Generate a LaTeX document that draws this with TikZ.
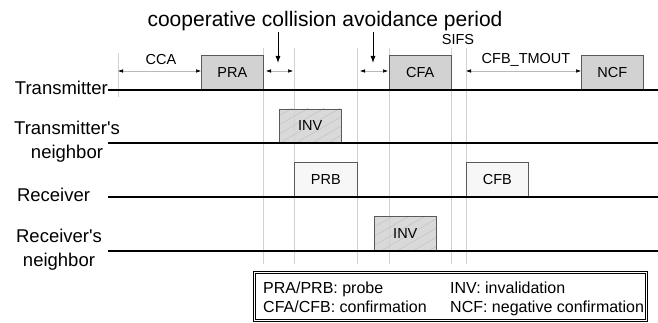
\documentclass[tikz,border=0pt]{standalone}
\usepackage{fontspec}
\setmainfont{Liberation Sans}
\usetikzlibrary{positioning,arrows.meta}
\usetikzlibrary{patterns.meta}
\tikzstyle{frame} = [draw=gray!70!black, line width=0.6pt, inner sep=0pt, anchor=south west, minimum width=62pt, minimum height=34pt, font=\fontsize{14.5}{16}\selectfont]
\tikzstyle{pkt} = [frame, fill=gray!35]
\tikzstyle{lightpkt} = [frame, fill=gray!6]
\tikzstyle{hatchpkt} = [frame, preaction={fill=gray!35, fill opacity=0.85}, pattern={Lines[angle=30,distance=8pt,line width=0.3pt]}, pattern color=gray!55]
\tikzstyle{guide} = [draw=gray!35, line width=0.7pt]
\tikzstyle{timeline} = [line width=1.5pt]
\tikzstyle{span} = [draw=gray!55, line width=0.5pt, <->, >={Latex[length=5pt,width=3.5pt,color=black]}]
\tikzstyle{pointer} = [line width=0.9pt, ->, >={Latex[length=7pt,width=5pt]}]
\tikzstyle{rowlabel} = [inner sep=0pt, align=center, font=\fontsize{18.5}{24}\selectfont]
\tikzstyle{tag} = [inner sep=0pt, anchor=base, font=\fontsize{14.5}{16}\selectfont]
\tikzstyle{key} = [inner sep=0pt, anchor=base west, font=\fontsize{16}{19}\selectfont]

\begin{document}
\begin{tikzpicture}[x=1pt,y=-1pt]
    \useasboundingbox (0,0) rectangle (658,323);
    % Draw guide lines
    \draw[guide] (118,53) -- (118,97);
    \foreach \x/\n in {263/b,294/c,357/d,389/e,451/f,466/g}
        \draw[guide] (\x,48) coordinate (g_\n) -- (\x,264);

    % Draw packets
    \node[pkt] (PRA) at (201,90) {PRA};
    \node[pkt] (CFA) at (389,90) {CFA};
    \node[pkt] (NCF) at (581,90) {NCF};
    \node[hatchpkt] (INV_t) at (279,143) {INV};
    \node[lightpkt, minimum width=63pt] (PRB) at (294,197) {PRB};
    \node[lightpkt] (CFB) at (466,197) {CFB};
    \node[hatchpkt] (INV_r) at (374,251) {INV};

    % Draw rows
    \node[rowlabel, anchor=base east] (tx) at (108,95) {Transmitter};
    \draw[timeline] (tx.east |- 0,90) coordinate (tx_s) -- (658,90) coordinate (tx_e);
    \node[rowlabel] (txn) at (67,142) {Transmitter\textquotesingle s\\neighbor};
    \draw[timeline] (108,143) coordinate (txn_s) -- (658,143) coordinate (txn_e);
    \node[rowlabel] (rx) at (53.5,195) {Receiver};
    \draw[timeline] (108,197) coordinate (rx_s) -- (658,197) coordinate (rx_e);
    \node[rowlabel] (rxn) at (59,250) {Receiver\textquotesingle s\\neighbor};
    \draw[timeline] (108,251) coordinate (rxn_s) -- (658,251) coordinate (rxn_e);

    % Draw periods
    \coordinate (cca_s) at (118,71);
    \draw[span] (cca_s) -- (PRA.west |- cca_s);
    \node[tag] (cca) at (161,65) {CCA};
    \draw[span] ([xshift=3pt]g_b |- cca_s) -- ([xshift=-1pt]g_c |- cca_s);
    \draw[span] ([xshift=3pt]g_d |- cca_s) -- ([xshift=-1pt]g_e |- cca_s);
    \draw[span] (CFB.west |- cca_s) -- (NCF.west |- cca_s);
    \node[tag] (tmout) at (526,64) {CFB\_TMOUT};
    \node[tag] (sifs) at (458,45) {SIFS};

    % Draw title with pointers
    \node[inner sep=0pt, anchor=base, font=\fontsize{21}{24}\selectfont] (title) at (325,27) {cooperative collision avoidance period};
    \coordinate (cap_a) at (278,63);
    \coordinate (cap_b) at (373,63);
    \draw[pointer] (title.south -| cap_a) -- (cap_a);
    \draw[pointer] (title.south -| cap_b) -- (cap_b);

    % Draw legend
    \node[draw, double, double distance=1.5pt, line width=0.6pt, minimum width=392pt, minimum height=48pt, inner sep=0pt] (legend) at (450.5,296.5) {};
    \node[key] (k_1) at (263,293) {PRA/PRB: probe};
    \node[key] (k_2) at (263,312) {CFA/CFB: confirmation};
    \node[key] (k_3) at (450,293) {INV: invalidation};
    \node[key] (k_4) at (450,312) {NCF: negative confirmation};
\end{tikzpicture}
\end{document}
